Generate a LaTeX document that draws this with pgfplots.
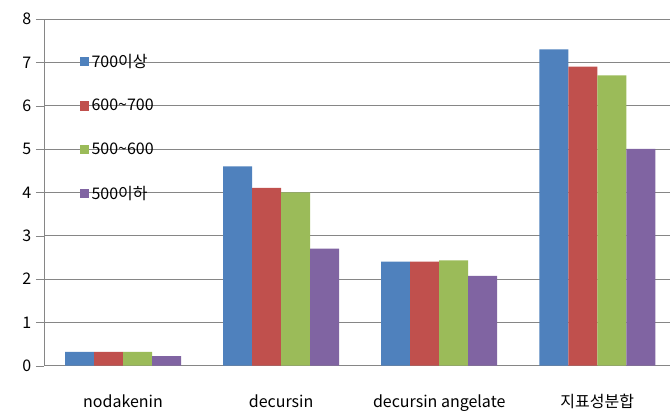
\documentclass[border=0pt]{standalone}
\usepackage{fontspec}
\setmainfont{Noto Sans CJK KR}
\usepackage{pgfplots}
\pgfplotsset{compat=1.18}

\definecolor{c1}{HTML}{4F81BD}
\definecolor{c2}{HTML}{C0504D}
\definecolor{c3}{HTML}{9BBB59}
\definecolor{c4}{HTML}{8064A2}
\definecolor{gridgray}{HTML}{868686}

\begin{document}
\begin{tikzpicture}
  \begin{axis}[
      name=ax,
      scale only axis,
      width=469.5pt, height=260pt,
      ybar=0pt, bar width=21.75pt,
      xmin=-0.5, xmax=3.46,
      ymin=0, ymax=8,
      ytick={0,1,...,8},
      xtick={0,1,2,3},
      xticklabels={nodakenin, decursin, decursin angelate, 지표성분합},
      x tick label style={yshift=-12pt},
      major x tick style={draw=none},
      extra x ticks={-0.5,0.5,1.5,2.5},
      extra x tick labels={},
      extra x tick style={major tick length=5pt, tick align=outside,
                          tick style={draw=gridgray}},
      axis x line=bottom, axis y line=left,
      axis line style={-, draw=gridgray},
      ymajorgrids, grid style={gridgray, line width=0.6pt},
      ytick style={draw=gridgray}, tick align=outside,
      major tick length=6pt,
      tick label style={font=\fontsize{12}{14}\selectfont},
      /pgf/number format/assume math mode=true,
      legend style={draw=none, fill=none, at={(0.05,0.915)}, anchor=north west,
        font=\fontsize{12}{14}\selectfont, row sep=18.4pt,
        legend cell align=left},
      legend image code/.code={\fill[#1] (0pt,-3.5pt) rectangle (7pt,3.5pt);},
    ]
    \addplot[fill=c1, draw=none] coordinates {(0,0.32) (1,4.6) (2,2.4) (3,7.3)};
    \addplot[fill=c2, draw=none] coordinates {(0,0.32) (1,4.1) (2,2.4) (3,6.9)};
    \addplot[fill=c3, draw=none] coordinates {(0,0.32) (1,4.0) (2,2.43) (3,6.7)};
    \addplot[fill=c4, draw=none] coordinates {(0,0.22) (1,2.7) (2,2.07) (3,5.0)};
    \legend{700이상, 600\textasciitilde700, 500\textasciitilde600, 500이하}
  \end{axis}
  \pgfresetboundingbox
  \path[use as bounding box] ([shift={(-33pt,-34.5pt)}]ax.south west)
    rectangle ([shift={(0pt,14.25pt)}]ax.north east);
\end{tikzpicture}
\end{document}
